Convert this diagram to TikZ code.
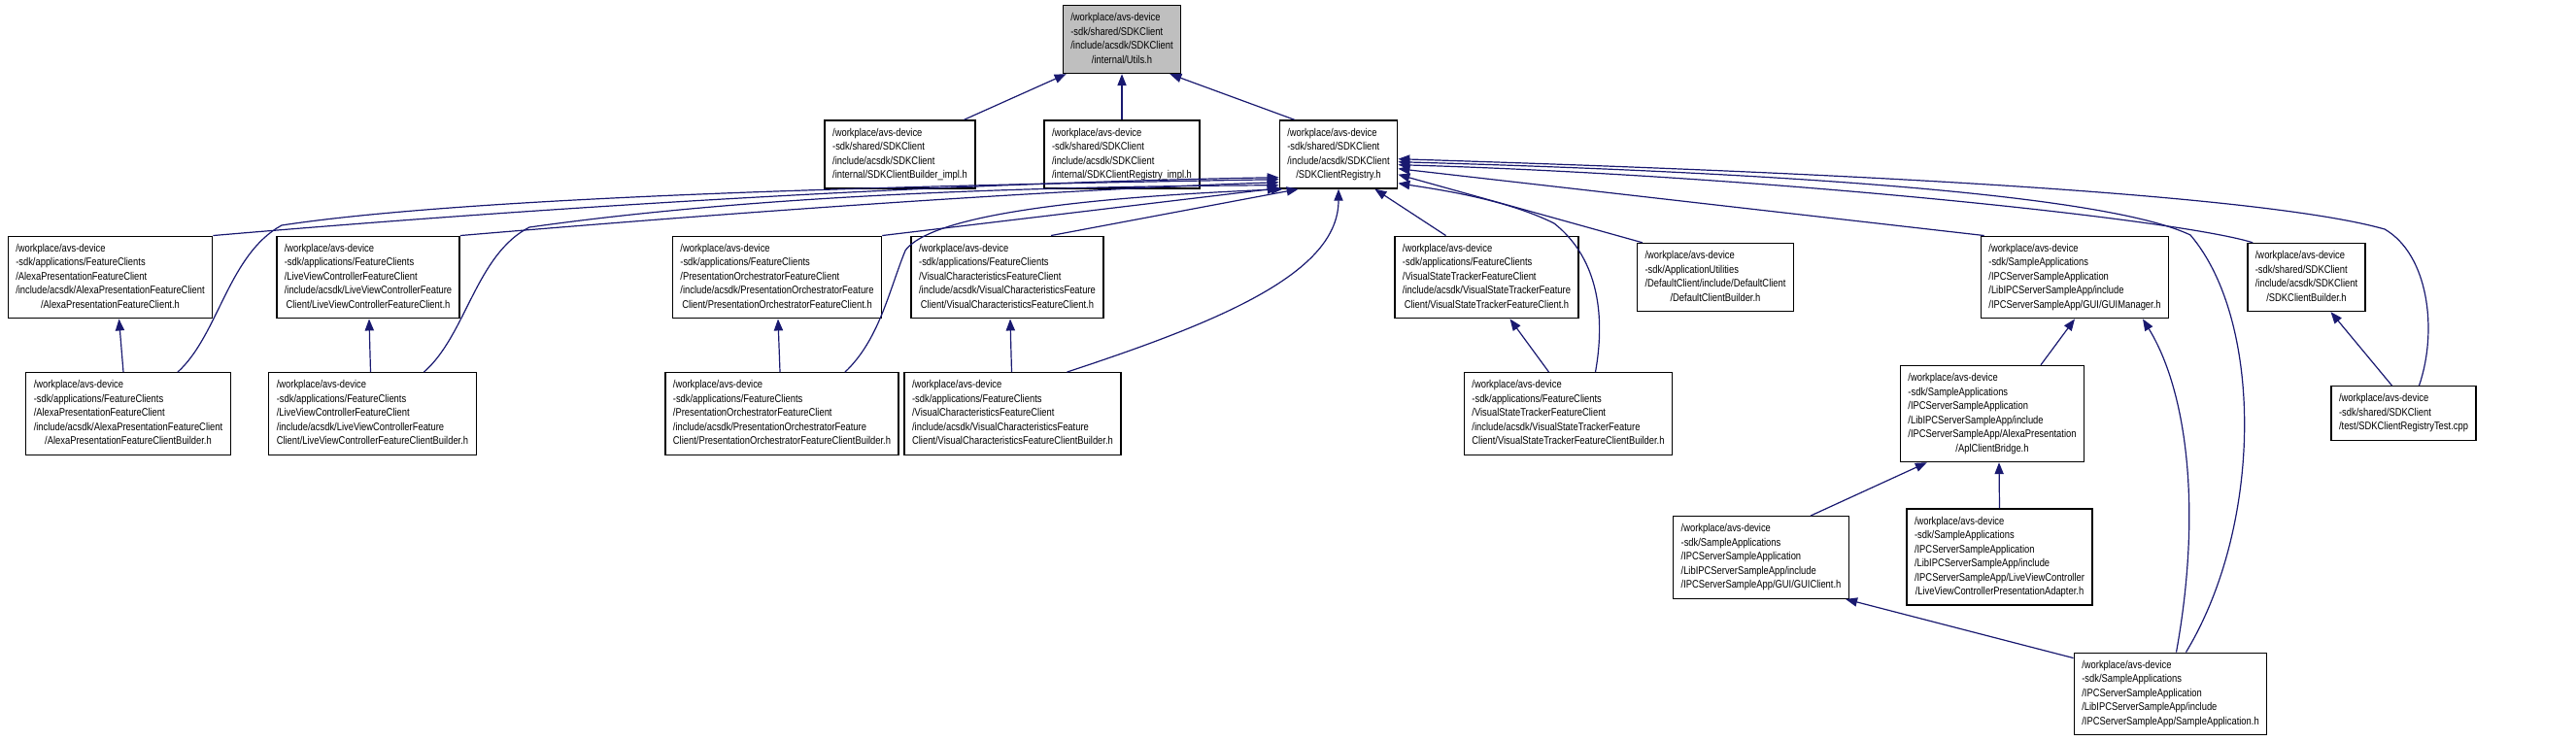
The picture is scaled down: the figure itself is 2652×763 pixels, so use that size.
\documentclass[tikz,border=0pt]{standalone}
\usepackage{fontspec}
\setmainfont{Liberation Sans}[FakeStretch=0.83]
\usetikzlibrary{arrows.meta,calc}
\definecolor{edgeblue}{RGB}{25,25,112}
\definecolor{rootgray}{RGB}{191,191,191}
\tikzset{
  hdr/.style={draw=black, line width=0.7pt, fill=white, inner xsep=4pt, inner ysep=3pt,
    font=\fontsize{5.65}{7.25}\selectfont},
  roothdr/.style={hdr, fill=rootgray},
  dep/.style={draw=edgeblue, line width=0.6pt, -{Triangle[length=6pt,width=4.6pt]}},
}
% lines left aligned, last line centred
\newcommand{\hdrtext}[2]{\begin{tabular}{@{}l@{}}#1\\\multicolumn{1}{@{}c@{}}{#2}\end{tabular}}

\begin{document}
\begin{tikzpicture}[x=0.5pt,y=-0.5pt]
\useasboundingbox (0,0) rectangle (2652,763);

% rank 1 and 2
\node[roothdr] (utils) at (1155,40.5) {\hdrtext{/workplace/avs-device\\-sdk/shared/SDKClient\\/include/acsdk/SDKClient}{/internal/Utils.h}};
\node[hdr] (builderimpl) at (926.5,159) {\hdrtext{/workplace/avs-device\\-sdk/shared/SDKClient\\/include/acsdk/SDKClient}{/internal/SDKClientBuilder\_impl.h}};
\node[hdr] (registryimpl) at (1155,159) {\hdrtext{/workplace/avs-device\\-sdk/shared/SDKClient\\/include/acsdk/SDKClient}{/internal/SDKClientRegistry\_impl.h}};
\node[hdr] (registry) at (1378,159) {\hdrtext{/workplace/avs-device\\-sdk/shared/SDKClient\\/include/acsdk/SDKClient}{/SDKClientRegistry.h}};

% rank 3
\node[hdr] (apfc) at (113.5,285.5) {\hdrtext{/workplace/avs-device\\-sdk/applications/FeatureClients\\/AlexaPresentationFeatureClient\\/include/acsdk/AlexaPresentationFeatureClient}{/AlexaPresentationFeatureClient.h}};
\node[hdr] (lvcfc) at (379,285.5) {\hdrtext{/workplace/avs-device\\-sdk/applications/FeatureClients\\/LiveViewControllerFeatureClient\\/include/acsdk/LiveViewControllerFeature}{Client/LiveViewControllerFeatureClient.h}};
\node[hdr] (pofc) at (800,285.5) {\hdrtext{/workplace/avs-device\\-sdk/applications/FeatureClients\\/PresentationOrchestratorFeatureClient\\/include/acsdk/PresentationOrchestratorFeature}{Client/PresentationOrchestratorFeatureClient.h}};
\node[hdr] (vcfc) at (1037,285.5) {\hdrtext{/workplace/avs-device\\-sdk/applications/FeatureClients\\/VisualCharacteristicsFeatureClient\\/include/acsdk/VisualCharacteristicsFeature}{Client/VisualCharacteristicsFeatureClient.h}};
\node[hdr] (vstfc) at (1530.5,285.5) {\hdrtext{/workplace/avs-device\\-sdk/applications/FeatureClients\\/VisualStateTrackerFeatureClient\\/include/acsdk/VisualStateTrackerFeature}{Client/VisualStateTrackerFeatureClient.h}};
\node[hdr] (dcb) at (1766,285.5) {\hdrtext{/workplace/avs-device\\-sdk/ApplicationUtilities\\/DefaultClient/include/DefaultClient}{/DefaultClientBuilder.h}};
\node[hdr] (guimgr) at (2136,285.5) {\hdrtext{/workplace/avs-device\\-sdk/SampleApplications\\/IPCServerSampleApplication\\/LibIPCServerSampleApp/include}{/IPCServerSampleApp/GUI/GUIManager.h}};
\node[hdr] (sdkbuilder) at (2374.5,285.5) {\hdrtext{/workplace/avs-device\\-sdk/shared/SDKClient\\/include/acsdk/SDKClient}{/SDKClientBuilder.h}};

% rank 4
\node[hdr] (apfcb) at (132,426) {\hdrtext{/workplace/avs-device\\-sdk/applications/FeatureClients\\/AlexaPresentationFeatureClient\\/include/acsdk/AlexaPresentationFeatureClient}{/AlexaPresentationFeatureClientBuilder.h}};
\node[hdr] (lvcfcb) at (383.5,426) {\hdrtext{/workplace/avs-device\\-sdk/applications/FeatureClients\\/LiveViewControllerFeatureClient\\/include/acsdk/LiveViewControllerFeature}{Client/LiveViewControllerFeatureClientBuilder.h}};
\node[hdr] (pofcb) at (805,426) {\hdrtext{/workplace/avs-device\\-sdk/applications/FeatureClients\\/PresentationOrchestratorFeatureClient\\/include/acsdk/PresentationOrchestratorFeature}{Client/PresentationOrchestratorFeatureClientBuilder.h}};
\node[hdr] (vcfcb) at (1042.5,426) {\hdrtext{/workplace/avs-device\\-sdk/applications/FeatureClients\\/VisualCharacteristicsFeatureClient\\/include/acsdk/VisualCharacteristicsFeature}{Client/VisualCharacteristicsFeatureClientBuilder.h}};
\node[hdr] (vstfcb) at (1614.5,426) {\hdrtext{/workplace/avs-device\\-sdk/applications/FeatureClients\\/VisualStateTrackerFeatureClient\\/include/acsdk/VisualStateTrackerFeature}{Client/VisualStateTrackerFeatureClientBuilder.h}};
\node[hdr] (aplbridge) at (2051,426) {\hdrtext{/workplace/avs-device\\-sdk/SampleApplications\\/IPCServerSampleApplication\\/LibIPCServerSampleApp/include\\/IPCServerSampleApp/AlexaPresentation}{/AplClientBridge.h}};
\node[hdr] (regtest) at (2474.5,425.5) {\hdrtext{/workplace/avs-device\\-sdk/shared/SDKClient}{/test/SDKClientRegistryTest.cpp}};

% rank 5 and 6
\node[hdr] (guiclient) at (1813,574) {\hdrtext{/workplace/avs-device\\-sdk/SampleApplications\\/IPCServerSampleApplication\\/LibIPCServerSampleApp/include}{/IPCServerSampleApp/GUI/GUIClient.h}};
\node[hdr] (lvcpa) at (2058.5,573.5) {\hdrtext{/workplace/avs-device\\-sdk/SampleApplications\\/IPCServerSampleApplication\\/LibIPCServerSampleApp/include\\/IPCServerSampleApp/LiveViewController}{/LiveViewControllerPresentationAdapter.h}};
\node[hdr] (sampleapp) at (2234.5,714.5) {\hdrtext{/workplace/avs-device\\-sdk/SampleApplications\\/IPCServerSampleApplication\\/LibIPCServerSampleApp/include}{/IPCServerSampleApp/SampleApplication.h}};

% includes of Utils.h
\draw[dep] ($(builderimpl.north)+(66,0)$) -- ($(utils.south west)+(4,0)$);
\draw[dep] (registryimpl.north) -- (utils.south);
\draw[dep] ($(registry.north west)+(16,0)$) -- ($(utils.south east)+(-12,0)$);

% includes of SDKClientRegistry.h, left side
\draw[dep] (apfc.north east) .. controls (600,210) and (1000,188) .. ($(registry.south west)+(0,-12)$);
\draw[dep] ($(apfcb.north)+(51,0)$) .. controls (225,345) and (235,262) .. (290,232) .. controls (500,200) and (1000,190) .. ($(registry.south west)+(0,-10)$);
\draw[dep] (lvcfc.north east) .. controls (800,215) and (1100,195) .. ($(registry.south west)+(0,-7)$);
\draw[dep] ($(lvcfcb.north)+(53,0)$) .. controls (480,345) and (490,262) .. (545,234) .. controls (800,198) and (1100,192) .. ($(registry.south west)+(0,-4)$);
\draw[dep] (pofc.north east) -- ($(registry.south west)+(0,-1)$);
\draw[dep] ($(pofcb.north)+(65,0)$) .. controls (905,350) and (915,300) .. (932,258) .. controls (965,212) and (1200,200) .. ($(registry.south west)+(4,0)$);
\draw[dep] ($(vcfc.north)+(45,0)$) -- ($(registry.south west)+(20,0)$);
\draw[dep] ($(vcfcb.north)+(56,0)$) .. controls (1260,330) and (1378,280) .. (registry.south);

% includes of SDKClientRegistry.h, right side
\draw[dep] ($(vstfc.north)+(-42,0)$) -- ($(registry.south east)+(-24,0)$);
\draw[dep] ($(vstfcb.north)+(28,0)$) .. controls (1652,330) and (1648,268) .. (1600,230) .. controls (1550,205) and (1480,195) .. ($(registry.south east)+(0,-6)$);
\draw[dep] ($(dcb.north west)+(6,0)$) -- ($(registry.south east)+(0,-15)$);
\draw[dep] ($(guimgr.north west)+(4,0)$) -- ($(registry.south east)+(0,-21)$);
\draw[dep] ($(sdkbuilder.north west)+(6,0)$) .. controls (2240,225) and (1800,180) .. ($(registry.south east)+(0,-25)$);
\draw[dep] ($(regtest.north)+(16,0)$) .. controls (2510,340) and (2500,262) .. (2455,236) .. controls (2300,192) and (1700,172) .. ($(registry.south east)+(0,-31)$);
\draw[dep] ($(sampleapp.north)+(16,0)$) .. controls (2330,540) and (2330,330) .. (2255,242) .. controls (2150,192) and (1700,174) .. ($(registry.south east)+(0,-28)$);

% feature client builders
\draw[dep] ($(apfcb.north)+(-5,0)$) -- ($(apfc.south)+(9,0)$);
\draw[dep] ($(lvcfcb.north)+(-2,0)$) -- ($(lvcfc.south)+(1,0)$);
\draw[dep] ($(pofcb.north)+(-2,0)$) -- ($(pofc.south)+(1,0)$);
\draw[dep] ($(vcfcb.north)+(-1,0)$) -- ($(vcfc.south)+(3,0)$);
\draw[dep] ($(vstfcb.north)+(-20,0)$) -- ($(vstfc.south)+(24,0)$);

% sample application
\draw[dep] ($(regtest.north)+(-12,0)$) -- ($(sdkbuilder.south)+(25,0)$);
\draw[dep] ($(aplbridge.north)+(50,0)$) -- (guimgr.south);
\draw[dep] ($(guiclient.north east)+(-40,0)$) -- ($(aplbridge.south west)+(28,0)$);
\draw[dep] (lvcpa.north) -- ($(aplbridge.south)+(7,0)$);
\draw[dep] ($(sampleapp.north)+(6,0)$) .. controls (2268,520) and (2250,400) .. ($(guimgr.south)+(70,0)$);
\draw[dep] ($(sampleapp.north west)+(0,6)$) -- ($(guiclient.south east)+(-4,0)$);
\end{tikzpicture}
\end{document}
